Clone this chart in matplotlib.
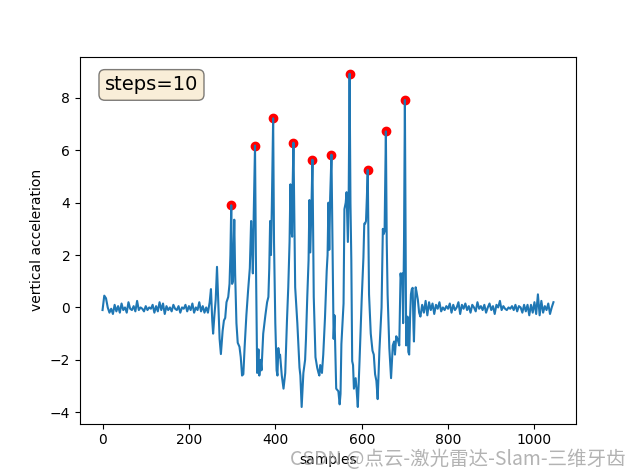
import numpy as np
import matplotlib
matplotlib.use("Agg")
import matplotlib.pyplot as plt

# quiet part before walking (every 4th sample)
quiet_before = [-0.1, 0.45, 0.35, 0.0, -0.2, -0.05, -0.25, 0.1, -0.15, 0.05,
                -0.2, 0.15, -0.1, 0.0, -0.2, 0.2, -0.05, -0.1, 0.05, -0.15,
                0.25, -0.1, 0.0, -0.05, -0.15, 0.05, -0.1, 0.0, -0.05, 0.1,
                -0.2, 0.05, -0.15, 0.2, -0.1, 0.15, -0.25, 0.05, -0.1, 0.0,
                -0.15, 0.1, -0.05, -0.1, 0.05, -0.2, 0.0, -0.05, 0.1, -0.15,
                0.05, -0.1, 0.15, -0.2, 0.0, -0.1, 0.2, -0.15, 0.05, -0.2, 0.0]

# walking part, read sample by sample from the trace
walk_samples = [244, 248, 251, 254, 256, 259, 262, 265, 268, 271, 274, 278, 281, 284, 287,
                291, 294, 296, 298, 300, 302, 305, 307, 310, 313, 317, 320, 323, 326, 329,
                333, 337, 341, 344, 346, 348, 350, 353, 355, 358, 361, 363, 366, 368, 372,
                377, 381, 384, 386, 388, 390, 392, 395, 397, 400, 403, 405, 407, 409, 411,
                415, 419, 423, 427, 430, 433, 435, 437, 439, 440, 442, 444, 446, 451, 456,
                458, 461, 465, 469, 471, 474, 477, 479, 481, 484, 486, 489, 493, 497, 500,
                502, 504, 508, 511, 515, 519, 521, 523, 525, 527, 530, 533, 535, 537, 541,
                546, 549, 551, 553, 556, 558, 560, 563, 565, 568, 570, 572, 574, 576, 578,
                580, 582, 586, 588, 591, 595, 600, 604, 606, 608, 610, 612, 614, 617, 621,
                625, 628, 631, 634, 637, 641, 644, 646, 649, 651, 653, 656, 658, 660, 664,
                668, 672, 675, 677, 680, 683, 687, 690, 692, 694, 696, 698, 700, 703, 706,
                708, 710, 712, 714, 716, 718, 720, 721, 723, 725, 727, 730, 733, 736]
walk_values = [-0.2, 0.2, 0.7, -0.5, -1.0, -0.3, 0.3, 1.55, 0.2, -1.2, -1.78, -0.9, -0.5, -0.4, 0.2,
               0.4, 0.9, 2.0, 3.9, 0.9, 1.0, 3.35, 1.3, -0.6, -1.35, -1.5, -1.9, -2.6, -2.55, -1.5,
               -0.3, 0.65, 1.5, 3.3, 2.4, 1.3, 3.5, 6.18, 2.0, -2.5, -1.6, -2.6, -2.0, -2.4, -1.0,
               -0.3, 0.2, 0.4, 1.5, 3.3, 2.0, 3.9, 7.22, 2.5, -0.6, -2.4, -2.6, -1.55, -1.9, -1.8,
               -2.6, -3.1, -2.5, -0.5, 0.77, 2.5, 4.7, 3.0, 2.7, 4.5, 6.29, 3.5, 0.77, -0.6, -2.3,
               -2.6, -3.8, -2.5, -2.0, -1.2, 0.4, 1.8, 4.1, 2.1, 4.1, 5.64, 0.4, -1.9, -2.3, -2.5,
               -2.6, -2.2, -2.5, -1.8, -0.4, 1.4, 2.0, 4.0, 2.2, 4.2, 5.83, 1.8, -1.2, -0.3, -3.1,
               -3.2, -3.7, -3.3, -1.4, -0.5, 0.15, 3.75, 4.0, 4.4, 2.5, 4.5, 8.92, 4.0, 1.8, -2.05,
               -2.2, -3.1, -2.7, -3.1, -3.8, -2.05, 0.3, 1.9, 3.2, 3.2, 3.3, 4.2, 5.25, 0.5, -1.0,
               -1.65, -1.8, -2.55, -2.8, -3.5, -1.65, -0.7, 0.0, 3.0, 2.8, 2.9, 6.72, 2.5, 0.5, -1.55,
               -2.7, -1.45, -1.3, -1.8, -1.1, -1.2, -1.45, 1.3, 1.0, 1.3, -0.6, 2.5, 7.92, -1.45, -0.35,
               -1.7, -1.8, -0.4, 0.5, 0.7, 0.75, -0.8, -1.3, 0.0, 0.77, 0.6, 0.3, -0.2, -0.35]

# quiet part after walking (every 4th sample)
quiet_after = [0.1, -0.2, 0.25, -0.3, 0.2, -0.1, 0.15, -0.25, 0.1, -0.05,
               0.2, -0.15, 0.0, -0.1, 0.05, -0.05, 0.15, -0.2, 0.1, -0.1,
               0.0, 0.2, -0.25, 0.1, -0.05, 0.15, -0.1, 0.05, -0.2, 0.1,
               0.0, -0.15, 0.2, -0.05, 0.05, -0.1, 0.1, -0.2, 0.0, 0.15,
               -0.1, 0.05, -0.25, 0.1, 0.0, 0.25, -0.1, 0.05, -0.05, -0.1,
               0.0, -0.05, 0.05, -0.1, 0.1, -0.15, 0.05, 0.0, -0.2, 0.1,
               -0.15, 0.1, -0.3, 0.1, -0.2, 0.2, -0.25, 0.5, -0.3, 0.25,
               -0.2, 0.05, -0.1, 0.15, -0.25, 0.0, 0.2]

# detected steps
peak_samples = [298, 353, 395, 442, 486, 530, 572, 614, 656, 700]
peak_values = [3.9, 6.18, 7.22, 6.29, 5.64, 5.83, 8.92, 5.25, 6.72, 7.92]

x_before = np.arange(0, 4 * len(quiet_before), 4)
x_after = np.arange(740, 740 + 4 * len(quiet_after), 4)
x = np.concatenate([x_before, walk_samples, x_after])
y = np.concatenate([quiet_before, walk_values, quiet_after])

fig = plt.figure(figsize=(6.4, 4.76))
ax = fig.add_subplot(111)
ax.plot(x, y)
ax.scatter(peak_samples, peak_values, color='red')
ax.set_xlabel('samples')
ax.set_ylabel('vertical acceleration')
props = dict(boxstyle='round', facecolor='wheat', alpha=0.5)
ax.text(0.05, 0.95, 'steps=10', transform=ax.transAxes, fontsize=14,
        verticalalignment='top', bbox=props)

# watermark
fig.text(0.977, 0.012, 'CSDN @点云-激光雷达-Slam-三维牙齿', ha='right', va='bottom',
         fontsize=14, color='#a0a0a0', alpha=0.8,
         family=['Noto Sans CJK SC', 'DejaVu Sans'])

fig.savefig('out.png')
